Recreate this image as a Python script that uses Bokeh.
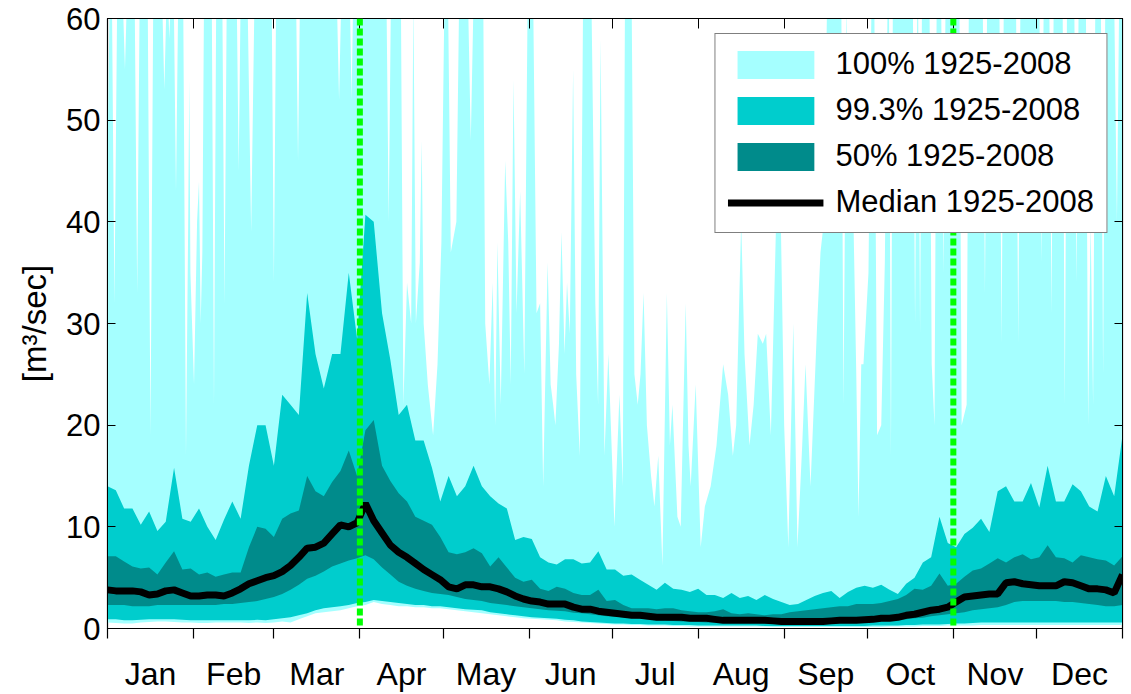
from bokeh.plotting import figure
from bokeh.models import (ColumnDataSource, Range1d, FixedTicker, LinearAxis,
                          CustomJSTickFormatter, Span, Legend, LegendItem)
from bokeh.embed import file_html
from bokeh.resources import INLINE

# Day of year (leap-year calendar), sampled every third day
days = list(range(1, 368, 3))

# Daily maximum 1925-2008 [m3/sec]: (day, value) points; 62 = off the top of the scale
flow_max_pts = [
    (1, 46), (1.8, 62), (2.6, 62), (3.5, 32), (4.5, 62), (6.5, 62), (7.3, 55), (8, 62),
    (10.8, 62), (11.7, 33), (12.6, 62), (15.5, 62), (16.5, 19), (17.5, 62), (20.7, 62),
    (21.5, 53), (22.3, 62), (22.8, 62), (23.3, 58), (23.8, 62), (24.9, 62), (25.7, 43),
    (26.5, 62), (28.3, 62), (29.3, 17), (30.1, 40), (30.5, 54), (30.9, 35), (32.2, 24),
    (33.3, 40), (34, 44), (34.6, 30), (35.2, 37), (35.8, 62), (38.6, 62), (39.4, 22),
    (40.2, 62), (42.4, 62), (43.2, 32), (44, 62), (47.6, 62), (48.3, 45), (49, 62),
    (51.5, 62), (52.8, 39), (54, 62), (60.2, 62), (61, 34), (61.8, 62), (69, 62),
    (69.7, 46), (70.4, 62), (83.7, 62), (84.5, 52), (85.3, 62), (88.4, 62), (89, 52),
    (89.6, 62), (101.6, 62), (102.4, 40), (103.2, 62), (106.8, 62), (107.7, 22),
    (109, 34), (110.5, 30), (111.3, 62), (112.2, 30), (113.6, 36), (114.3, 48),
    (115, 30), (116.5, 24), (118.4, 19), (120, 26), (121.4, 38), (122.5, 62),
    (123.8, 62), (124.8, 37), (126.8, 40), (127.8, 62), (131, 62), (132, 48), (133, 62),
    (136.5, 62), (137.2, 30), (138.7, 24), (139.9, 34), (140.8, 20), (141.6, 38),
    (142.8, 22), (144.4, 46), (145.5, 38), (146.4, 24), (147.4, 54), (148.5, 31),
    (149.8, 43), (151.3, 25), (152.5, 62), (154.5, 62), (155.7, 31), (157, 32),
    (158.1, 14), (159.7, 36), (160.8, 24), (161.7, 22), (162.5, 20), (163.8, 28),
    (164.7, 39), (165.8, 27), (166.7, 34), (167.7, 29), (168.9, 55), (170, 25),
    (171.3, 17), (172.5, 62), (175.5, 62), (176.9, 32), (177.9, 22), (178.8, 58),
    (180.2, 17), (181.6, 27), (183.8, 10), (185.6, 23), (186.8, 14), (187.6, 62),
    (190, 62), (191, 25), (192.2, 22), (193.2, 25), (194.3, 33), (195.5, 20), (197, 15),
    (198.2, 12), (199.6, 17), (201.1, 6.2), (202.7, 33), (203.8, 18), (204.7, 22),
    (206.5, 11), (207.7, 10), (209.5, 32), (210.5, 18), (211.3, 14), (213.1, 24),
    (214.9, 8), (216.4, 12), (218.5, 14), (220.6, 18), (223, 26), (224.8, 23),
    (226.5, 17), (227.7, 20), (229.5, 40), (230.7, 27), (232.5, 18), (234, 22),
    (235.5, 29), (237.3, 28), (238.5, 29), (240.2, 19), (242, 39), (243.8, 40),
    (245, 20), (246.5, 8), (248.3, 30), (249.8, 8), (251.5, 18), (252.7, 26),
    (254.5, 14), (256.9, 30), (258.1, 37), (259.3, 40), (260.5, 62), (265.6, 62),
    (266.4, 22), (267.5, 62), (268.3, 40), (270, 40), (271, 25), (271.8, 11),
    (272.8, 26), (273.6, 26), (275.4, 35), (276.5, 62), (277.5, 62), (278.5, 19),
    (280, 20), (281.3, 36), (282.3, 62), (282.8, 62), (283.5, 17), (284.2, 62),
    (291.4, 62), (292.2, 30), (293, 62), (293.3, 62), (294, 29), (294.7, 62),
    (297.4, 62), (298.2, 26), (299.2, 20), (300, 62), (301.6, 62), (302.4, 35),
    (303.2, 62), (308.2, 62), (309, 20), (310.8, 22), (311.6, 62), (316.6, 62),
    (317.4, 33), (318.2, 62), (322.6, 62), (323.4, 28), (324.2, 62), (328.6, 62),
    (329.4, 28), (330.2, 62), (337, 62), (337.8, 36), (338.6, 62), (340.6, 62),
    (341.4, 31), (342.2, 62), (345.4, 62), (346.2, 22), (347, 62), (349.6, 62),
    (350.4, 34), (351.2, 62), (353.8, 62), (354.6, 20), (355.5, 40), (356.4, 22),
    (357.2, 62), (359.2, 62), (360, 25), (360.8, 62), (364, 62), (365, 40),
    (365.8, 62), (367, 62),
]
flow_hi99 = [
    14.0, 13.6, 11.8, 11.8, 10.2, 11.5, 9.6, 10.5, 15.8, 10.8,
    10.5, 11.8, 10.0, 8.7, 10.7, 12.5, 10.8, 16.0, 20.0, 20.0,
    16.0, 23.0, 22.0, 21.0, 33.0, 27.0, 23.6, 27.0, 27.0, 35.0,
    28.5, 40.7, 40.0, 31.0, 26.4, 21.0, 22.0, 18.5, 18.5, 15.8,
    12.5, 15.0, 13.0, 14.0, 16.0, 14.0, 13.0, 12.3, 11.8, 8.7,
    9.0, 8.8, 7.0, 6.5, 6.3, 6.8, 6.8, 6.4, 6.5, 7.6,
    5.8, 5.8, 5.2, 5.3, 4.8, 4.3, 3.8, 4.5, 3.9, 3.8,
    3.6, 3.9, 3.3, 3.3, 3.0, 3.5, 3.0, 3.2, 2.8, 3.3,
    2.9, 2.6, 2.3, 2.4, 2.8, 3.2, 3.5, 3.7, 3.0, 3.6,
    4.0, 4.2, 4.0, 4.3, 3.8, 3.4, 4.4, 5.0, 6.5, 7.0,
    11.0, 8.4, 8.0, 9.3, 9.9, 10.8, 9.5, 13.5, 14.0, 12.5,
    12.5, 14.3, 11.9, 16.0, 12.5, 12.5, 14.2, 13.5, 12.0, 11.5,
    15.0, 13.0, 19.0,
]
flow_q75 = [
    7.1, 7.1, 6.6, 6.1, 5.9, 6.0, 5.3, 6.5, 7.6, 5.8,
    5.9, 5.3, 5.5, 5.1, 5.3, 5.5, 5.5, 8.0, 10.0, 9.8,
    9.0, 10.8, 11.3, 11.6, 15.0, 13.5, 13.0, 14.4, 15.5, 17.5,
    15.0, 19.5, 20.5, 16.0, 14.5, 13.3, 12.5, 11.0, 10.6, 10.2,
    9.0, 7.5, 7.3, 7.5, 7.9, 7.4, 6.1, 7.0, 6.0, 5.0,
    4.6, 4.8, 3.9, 3.7, 4.1, 3.9, 3.5, 3.3, 3.3, 3.8,
    2.7, 2.8, 2.3, 2.0, 2.0, 2.0, 1.9, 2.0, 2.0, 1.8,
    1.7, 1.6, 1.6, 1.7, 1.9, 1.5, 1.4, 1.5, 1.4, 1.3,
    1.4, 1.4, 1.6, 1.7, 1.8, 1.9, 2.0, 2.1, 2.2, 2.2,
    2.4, 2.4, 2.4, 2.5, 2.7, 2.9, 3.3, 3.9, 3.8, 4.2,
    5.4, 4.2, 4.4, 5.1, 5.7, 5.9, 6.4, 6.9, 6.5, 7.0,
    7.3, 6.8, 7.0, 8.2, 7.0, 6.9, 6.5, 7.2, 7.0, 6.8,
    6.7, 6.2, 7.1,
]
flow_median = [
    3.8, 3.7, 3.7, 3.7, 3.6, 3.3, 3.4, 3.7, 3.8, 3.5,
    3.2, 3.2, 3.3, 3.3, 3.2, 3.5, 3.9, 4.4, 4.7, 5.0,
    5.2, 5.6, 6.2, 7.0, 7.9, 8.0, 8.4, 9.3, 10.2, 10.0,
    10.4, 12.3, 10.6, 9.4, 8.2, 7.5, 7.0, 6.4, 5.8, 5.3,
    4.8, 4.1, 3.9, 4.3, 4.3, 4.1, 4.1, 3.9, 3.6, 3.2,
    2.9, 2.7, 2.6, 2.4, 2.4, 2.4, 2.1, 1.9, 1.9, 1.7,
    1.6, 1.5, 1.4, 1.3, 1.3, 1.2, 1.1, 1.1, 1.1, 1.1,
    1.0, 1.0, 1.0, 0.9, 0.8, 0.8, 0.8, 0.8, 0.8, 0.8,
    0.75, 0.7, 0.7, 0.7, 0.7, 0.7, 0.7, 0.75, 0.8, 0.8,
    0.8, 0.85, 0.9, 1.0, 1.0, 1.1, 1.3, 1.4, 1.6, 1.8,
    1.9, 2.1, 2.6, 3.1, 3.2, 3.3, 3.4, 3.4, 4.5, 4.6,
    4.4, 4.3, 4.2, 4.2, 4.2, 4.6, 4.5, 4.2, 3.9, 3.9,
    3.8, 3.5, 5.3,
]
flow_q25 = [
    2.3, 2.3, 2.3, 2.2, 2.2, 2.2, 2.3, 2.3, 2.3, 2.3,
    2.3, 2.3, 2.3, 2.3, 2.4, 2.4, 2.5, 2.6, 2.7, 2.9,
    3.1, 3.4, 3.8, 4.3, 4.9, 5.2, 5.6, 6.1, 6.4, 6.7,
    6.9, 7.2, 6.8, 6.0, 5.3, 4.6, 4.2, 3.9, 3.7, 3.5,
    3.4, 3.3, 3.1, 2.9, 2.8, 2.7, 2.5, 2.4, 2.3, 2.2,
    2.1, 2.0, 1.9, 1.8, 1.75, 1.7, 1.55, 1.5, 1.4, 1.3,
    1.2, 1.15, 1.1, 1.0, 0.95, 0.9, 0.8, 0.8, 0.75, 0.7,
    0.7, 0.65, 0.6, 0.6, 0.6, 0.55, 0.55, 0.55, 0.55, 0.5,
    0.5, 0.5, 0.5, 0.5, 0.5, 0.5, 0.55, 0.55, 0.6, 0.6,
    0.6, 0.65, 0.7, 0.75, 0.8, 0.85, 0.9, 1.0, 1.05, 1.2,
    1.3, 1.4, 1.5, 1.6, 1.8, 1.9, 2.0, 2.1, 2.3, 2.6,
    2.7, 2.7, 2.7, 2.7, 2.7, 2.6, 2.6, 2.5, 2.4, 2.3,
    2.2, 2.2, 2.3,
]
flow_lo99 = [
    0.9, 0.9, 0.8, 0.8, 0.85, 0.9, 0.9, 0.9, 0.9, 0.85,
    0.8, 0.8, 0.8, 0.8, 0.8, 0.8, 0.8, 0.8, 0.85, 0.8,
    0.9, 1.0, 1.1, 1.3, 1.5, 1.8, 2.0, 2.1, 2.2, 2.3,
    2.5, 2.6, 2.8, 2.7, 2.6, 2.5, 2.4, 2.3, 2.3, 2.2,
    2.2, 2.1, 2.0, 1.9, 1.85, 1.8, 1.6, 1.5, 1.4, 1.3,
    1.2, 1.1, 1.05, 1.0, 0.95, 0.85, 0.8, 0.7, 0.65, 0.6,
    0.55, 0.5, 0.5, 0.45, 0.45, 0.4, 0.4, 0.4, 0.35, 0.35,
    0.35, 0.3, 0.3, 0.3, 0.3, 0.3, 0.3, 0.3, 0.3, 0.25,
    0.25, 0.25, 0.25, 0.25, 0.25, 0.25, 0.25, 0.25, 0.25, 0.25,
    0.25, 0.25, 0.3, 0.3, 0.3, 0.3, 0.35, 0.35, 0.4, 0.4,
    0.4, 0.45, 0.5, 0.5, 0.55, 0.6, 0.6, 0.6, 0.6, 0.6,
    0.6, 0.6, 0.6, 0.6, 0.6, 0.6, 0.6, 0.6, 0.6, 0.6,
    0.6, 0.6, 0.6,
]
flow_min = [
    0.6, 0.55, 0.5, 0.5, 0.6, 0.65, 0.7, 0.7, 0.65, 0.6,
    0.6, 0.55, 0.55, 0.6, 0.6, 0.6, 0.6, 0.55, 0.6, 0.55,
    0.6, 0.7, 0.6, 0.9, 1.2, 1.5, 1.6, 1.7, 1.8, 2.0,
    2.2, 2.3, 2.6, 2.4, 2.3, 2.2, 2.2, 2.1, 2.1, 2.0,
    2.0, 1.9, 1.8, 1.7, 1.6, 1.5, 1.4, 1.3, 1.2, 1.1,
    1.0, 0.95, 0.9, 0.85, 0.8, 0.7, 0.65, 0.6, 0.55, 0.5,
    0.45, 0.4, 0.4, 0.35, 0.35, 0.3, 0.3, 0.3, 0.25, 0.25,
    0.2, 0.2, 0.2, 0.2, 0.2, 0.2, 0.2, 0.2, 0.2, 0.2,
    0.15, 0.15, 0.15, 0.15, 0.15, 0.15, 0.15, 0.15, 0.15, 0.15,
    0.15, 0.15, 0.15, 0.15, 0.2, 0.2, 0.2, 0.2, 0.25, 0.25,
    0.25, 0.3, 0.3, 0.3, 0.3, 0.35, 0.35, 0.35, 0.35, 0.35,
    0.35, 0.35, 0.35, 0.35, 0.35, 0.35, 0.35, 0.35, 0.35, 0.35,
    0.35, 0.35, 0.35,
]

month_names = ["Jan", "Feb", "Mar", "Apr", "May", "Jun",
               "Jul", "Aug", "Sep", "Oct", "Nov", "Dec"]
month_starts = [1, 32, 61, 92, 122, 153, 183, 214, 245, 275, 306, 336, 367]
marker_days = [92, 306]          # 1 April and 1 November
y_ticks = [0, 10, 20, 30, 40, 50, 60]
period = "1925-2008"

src = ColumnDataSource(dict(days=days, hi99=flow_hi99, q75=flow_q75, med=flow_median,
                            q25=flow_q25, lo99=flow_lo99, fmin=flow_min))

# full range band: upper edge from the maximum points, lower edge from the minimum
max_days = [d for d, _ in flow_max_pts]
max_vals = [v for _, v in flow_max_pts]
band_x = max_days + days[::-1]
band_y = max_vals + flow_min[::-1]

FONT = "Liberation Sans"
p = figure(width=1131, height=694, x_range=Range1d(1, 367), y_range=Range1d(0, 60),
           output_backend="svg", toolbar_location=None,
           min_border_left=107, min_border_right=9, min_border_top=18, min_border_bottom=55)
p.background_fill_color = "white"
p.border_fill_color = "white"
p.outline_line_color = "black"
p.outline_line_width = 1.2
p.xgrid.visible = False
p.ygrid.visible = False

r_all = p.patch(x=band_x, y=band_y, fill_color="#A5FFFF", line_color=None)
r_99 = p.varea(x="days", y1="lo99", y2="hi99", source=src, fill_color="#00CDCD")
r_50 = p.varea(x="days", y1="q25", y2="q75", source=src, fill_color="#008B8B")
r_med = p.line(x="days", y="med", source=src, line_color="black", line_width=7)

for d in marker_days:
    p.add_layout(Span(location=d, dimension="height", line_color="#00FF00",
                      line_width=6, line_dash="7 3"))

# bottom axis: month names centred in each month, ticks at month boundaries
centers = [(a + b) / 2 for a, b in zip(month_starts[:-1], month_starts[1:])]
xax = p.xaxis[0]
xax.ticker = FixedTicker(ticks=centers, minor_ticks=month_starts)
xax.major_label_overrides = {c: n for c, n in zip(centers, month_names)}
xax.major_tick_in = 0
xax.major_tick_out = 0
xax.minor_tick_in = 0
xax.minor_tick_out = 10
xax.minor_tick_line_color = "black"
xax.minor_tick_line_width = 1.2
xax.axis_line_color = "black"
xax.major_label_standoff = 17
xax.major_label_text_font = FONT
xax.major_label_text_font_size = "32px"
xax.major_label_text_color = "black"

yax = p.yaxis[0]
yax.ticker = FixedTicker(ticks=y_ticks)
yax.major_tick_in = 8
yax.major_tick_out = 0
yax.minor_tick_in = 0
yax.minor_tick_out = 0
yax.axis_line_color = "black"
yax.major_label_standoff = 7
yax.major_label_text_font = FONT
yax.major_label_text_font_size = "31px"
yax.major_label_text_color = "black"
yax.axis_label = "[m³/sec]"
yax.axis_label_text_font = FONT
yax.axis_label_text_font_size = "33px"
yax.axis_label_text_font_style = "normal"
yax.axis_label_text_color = "black"
yax.axis_label_standoff = 10

blank = CustomJSTickFormatter(code="return ''")
top = LinearAxis(ticker=FixedTicker(ticks=month_starts), formatter=blank,
                 major_tick_in=10, major_tick_out=0, minor_tick_in=0, minor_tick_out=0,
                 major_label_standoff=0, axis_line_color="black")
p.add_layout(top, "above")
right = LinearAxis(ticker=FixedTicker(ticks=y_ticks), formatter=blank,
                   major_tick_in=8, major_tick_out=0, minor_tick_in=0, minor_tick_out=0,
                   major_label_standoff=0, axis_line_color="black")
p.add_layout(right, "right")

legend = Legend(items=[
    LegendItem(label="100% " + period, renderers=[r_all]),
    LegendItem(label="99.3% " + period, renderers=[r_99]),
    LegendItem(label="50% " + period, renderers=[r_50]),
    LegendItem(label="Median " + period, renderers=[r_med]),
], location="top_right")
legend.margin = 15
legend.padding = 12
legend.spacing = 10
legend.glyph_width = 96
legend.glyph_height = 35
legend.label_height = 35
legend.label_standoff = 12
legend.label_text_font = FONT
legend.label_text_font_size = "31px"
legend.label_text_color = "black"
legend.border_line_color = "black"
legend.border_line_width = 1
legend.background_fill_alpha = 1
p.add_layout(legend)

open("out.html", "w").write(file_html(p, INLINE))
